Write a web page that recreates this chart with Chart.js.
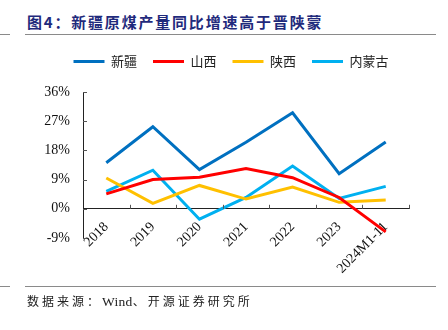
<!DOCTYPE html>
<html>
<head>
<meta charset="utf-8">
<script src="https://cdn.jsdelivr.net/npm/chart.js@4.4.1/dist/chart.umd.min.js"></script>
<style>
  html, body { margin: 0; padding: 0; background: #fff; }
  #wrap { position: relative; width: 448px; height: 330px; overflow: hidden; }
  #title { position: absolute; left: 27px; top: 11px; font: bold 15px "Noto Sans CJK SC", sans-serif; color: #1f2a7c; white-space: nowrap; letter-spacing: 1.8px; }
  .rule { position: absolute; height: 0; border-top: 1.5px solid #8a8a8a; }
  #source { position: absolute; left: 27px; top: 292px; font: 12px "Noto Sans CJK SC", sans-serif; color: #222; white-space: nowrap; letter-spacing: 3px; }
  #source .lat { font-family: "Liberation Serif", serif; font-size: 13.5px; letter-spacing: 0.3px; }
  canvas { position: absolute; left: 0; top: 0; }
</style>
</head>
<body>
<div id="wrap">
  <div id="title">图4：新疆原煤产量同比增速高于晋陕蒙</div>
  <div class="rule" style="left:0;width:10px;top:34px"></div>
  <div class="rule" style="left:25px;width:411px;top:34px"></div>
  <canvas id="grafico" width="448" height="330"></canvas>
  <div class="rule" style="left:0;width:10px;top:286px"></div>
  <div class="rule" style="left:25px;width:411px;top:286px"></div>
  <div id="source">数据来源：<span class="lat">Wind</span>、开源证券研究所</div>
</div>
<script>
// Datos (% interanual)
const categorias = ["2018", "2019", "2020", "2021", "2022", "2023", "2024M1-11"];
const xinjiang = [14.2, 25.3, 12.1, 20.5, 29.6, 10.8, 20.6];
const shanxi = [4.6, 9.0, 9.7, 12.4, 9.6, 3.5, -7.1];
const shaanxi = [9.5, 1.7, 7.2, 3.0, 6.7, 2.0, 2.7];
const neimenggu = [5.4, 11.9, -3.2, 3.5, 13.2, 3.2, 6.9];
const ticksY = [-9, 0, 9, 18, 27, 36];

const fuenteSerif = "'Liberation Serif', 'Times New Roman', serif";
const fuenteCJK = "'Noto Sans CJK SC', sans-serif";

function serie(nombre, datos, color) {
    return {
        label: nombre,
        data: datos,
        borderColor: color,
        backgroundColor: color,
        borderWidth: 3,
        pointRadius: 0,
        tension: 0,
        fill: false
    };
}

// margen extra bajo la leyenda y desplazamiento horizontal
const ajusteLeyenda = {
    id: "ajusteLeyenda",
    beforeInit(chart) {
        const fit = chart.legend.fit;
        chart.legend.fit = function () {
            fit.bind(chart.legend)();
            this.height += 14;
        };
    },
    afterLayout(chart) {
        chart.legend.left += 19;
        chart.legend.right += 19;
    }
};

// marcas cortas hacia dentro en ambos ejes
const marcasEjes = {
    id: "marcasEjes",
    afterDraw(chart) {
        const { ctx, chartArea, scales } = chart;
        const x = scales.x, y = scales.y;
        const y0 = y.getPixelForValue(0);
        const paso = (chartArea.right - chartArea.left) / categorias.length;
        ctx.save();
        ctx.strokeStyle = "#555";
        ctx.lineWidth = 1;
        ctx.beginPath();
        for (let i = 1; i <= categorias.length; i++) {
            const px = Math.round(x.getPixelForValue(i - 1) + paso / 2) + 0.5;
            ctx.moveTo(px, y0);
            ctx.lineTo(px, y0 - 4);
        }
        ticksY.forEach(v => {
            const py = Math.round(y.getPixelForValue(v)) + 0.5;
            ctx.moveTo(chartArea.left, py);
            ctx.lineTo(chartArea.left + 4, py);
        });
        ctx.stroke();
        ctx.restore();
    }
};

const ctx = document.getElementById("grafico").getContext("2d");
const grafico = new Chart(ctx, {
    type: "line",
    data: {
        labels: categorias,
        datasets: [
            serie("新疆", xinjiang, "#0070c0"),
            serie("山西", shanxi, "#ff0000"),
            serie("陕西", shaanxi, "#ffc000"),
            serie("内蒙古", neimenggu, "#00b0f0")
        ]
    },
    options: {
        responsive: false,
        animation: false,
        layout: { padding: { left: 15, right: 39, top: 39, bottom: 92 } },
        plugins: {
            tooltip: { enabled: false },
            legend: {
                position: "top",
                labels: {
                    boxWidth: 31,
                    boxHeight: 3,
                    padding: 16,
                    color: "#222",
                    font: { family: fuenteCJK, size: 13 },
                    generateLabels(chart) {
                        return Chart.defaults.plugins.legend.labels.generateLabels(chart)
                            .map(item => ({ ...item, lineWidth: 0 }));
                    }
                }
            }
        },
        scales: {
            x: {
                position: { y: 0 },
                offset: true,
                grid: { display: false, offset: true },
                border: { display: true, color: "#222", width: 1 },
                ticks: {
                    minRotation: 45,
                    maxRotation: 45,
                    autoSkip: false,
                    padding: 2,
                    color: "#111",
                    font: { family: fuenteSerif, size: 14 }
                }
            },
            y: {
                min: -9,
                max: 36,
                afterFit(scale) { scale.width = 68; },
                afterBuildTicks(scale) { scale.ticks = ticksY.map(v => ({ value: v })); },
                grid: { display: false },
                border: { display: true, color: "#222", width: 1 },
                ticks: {
                    padding: 5,
                    color: "#111",
                    font: { family: fuenteSerif, size: 14 },
                    callback: v => v + "%"
                }
            }
        }
    },
    plugins: [ajusteLeyenda, marcasEjes]
});
</script>
</body>
</html>
